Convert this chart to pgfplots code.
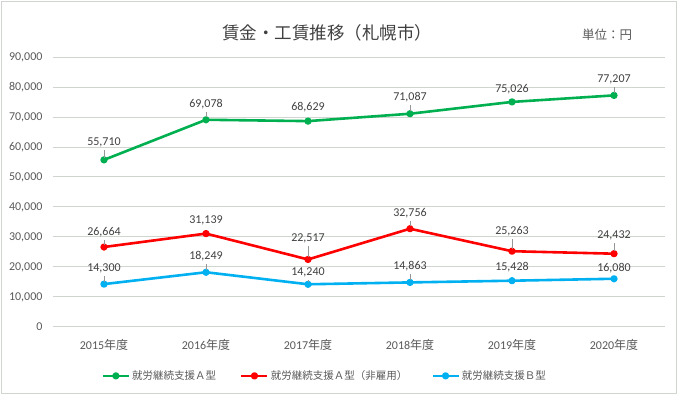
\documentclass[border=0pt]{standalone}
\usepackage{pgfplots}
\pgfplotsset{compat=1.18}
\usepackage{pgfplotstable}
\usepackage{fontspec}
\setmainfont{Carlito}
\newfontfamily\jp{Noto Sans CJK JP}
\definecolor{cgreen}{RGB}{0,176,80}
\definecolor{cred}{RGB}{255,0,0}
\definecolor{cblue}{RGB}{0,176,240}
\definecolor{gridc}{RGB}{208,213,208}
\definecolor{tickc}{RGB}{89,89,89}
\definecolor{labc}{RGB}{64,64,64}
\definecolor{leadc}{RGB}{150,150,150}

\pgfplotstableread{
x y lab d w
0 55710 55,710 7.3 0.6
1 69078 69,078 5.7 0.6
2 68629 68,629 3.7 0
3 71087 71,087 6.7 0.6
4 75026 75,026 2.7 0
5 77207 77,207 5.7 0.6
}\tgreen
\pgfplotstableread{
x y lab d w
0 26664 26,664 4.7 0.6
1 31139 31,139 3.3 0
2 22517 22,517 10.7 0.6
3 32756 32,756 5.7 0.6
4 25263 25,263 9.7 0.6
5 24432 24,432 8.7 0.6
}\tred
\pgfplotstableread{
x y lab d w
0 14300 14,300 5.7 0.6
1 18249 18,249 6.3 0.6
2 14240 14,240 1.7 0.6
3 14863 14,863 5.7 0.6
4 15428 15,428 3.1 0
5 16080 16,080 0.2 0
}\tblue

\begin{document}
\begin{tikzpicture}
\useasboundingbox (0,0) rectangle (680pt,395pt);
\draw[gridc, line width=1pt] (1.5pt,1.5pt) rectangle (676pt,393.5pt);
\node[font=\jp\fontsize{17.5}{20}\selectfont, text=labc] at (327pt,362pt) {賃金・工賃推移（札幌市）};
\node[font=\jp\fontsize{12.5}{14}\selectfont, text=tickc] at (607pt,360pt) {単位：円};
\begin{axis}[
  at={(53pt,68pt)}, anchor=south west,
  scale only axis, width=612pt, height=270pt,
  xmin=-0.5, xmax=5.5, ymin=0, ymax=90000,
  xtick={0,1,2,3,4,5},
  xticklabels={2015{\jp 年度},2016{\jp 年度},2017{\jp 年度},2018{\jp 年度},2019{\jp 年度},2020{\jp 年度}},
  ytick={0,10000,...,90000},
  scaled y ticks=false,
  axis line style={draw=none},
  major tick length=0pt,
  ymajorgrids, grid style={gridc, line width=1pt},
  tick label style={font=\fontsize{12}{14}\selectfont, text=tickc},
  yticklabel style={xshift=-7pt, /pgf/number format/.cd, 1000 sep={,}, assume math mode=true},
  xticklabel style={yshift=-9pt},
  clip=false,
  every axis plot/.append style={line width=2.6pt, mark=*, mark size=2.3pt, line join=round},
  legend image code/.code={\draw[mark repeat=2,mark phase=2] plot coordinates {(0pt,0pt) (13pt,0pt) (26pt,0pt)};},
  legend style={at={(0.444,-0.181)}, anchor=center, draw=none, fill=none,
    font=\jp\fontsize{10.5}{12}\selectfont, text=tickc, legend columns=3,
    /tikz/every even column/.append style={column sep=22pt}},
  legend cell align=left,
  lab/.style={
    point meta=explicit symbolic,
    visualization depends on={\thisrow{d}\as\labd},
    visualization depends on={\thisrow{w}\as\labw},
    nodes near coords={\shortstack{\pgfplotspointmeta\\\textcolor{leadc}{\rule{\labw pt}{\labd pt}}}},
    every node near coord/.append style={anchor=south, inner sep=0pt, yshift=1pt, font=\fontsize{12}{14}\selectfont, text=labc},
  },
]
\addplot[cgreen, mark options={fill=cgreen}, lab] table[x=x, y=y, meta=lab] {\tgreen};
\addlegendentry{就労継続支援Ａ型}
\addplot[cred, mark options={fill=cred}, lab] table[x=x, y=y, meta=lab] {\tred};
\addlegendentry{就労継続支援Ａ型（非雇用）}
\addplot[cblue, mark options={fill=cblue}, lab] table[x=x, y=y, meta=lab] {\tblue};
\addlegendentry{就労継続支援Ｂ型}
\end{axis}
\end{tikzpicture}
\end{document}
